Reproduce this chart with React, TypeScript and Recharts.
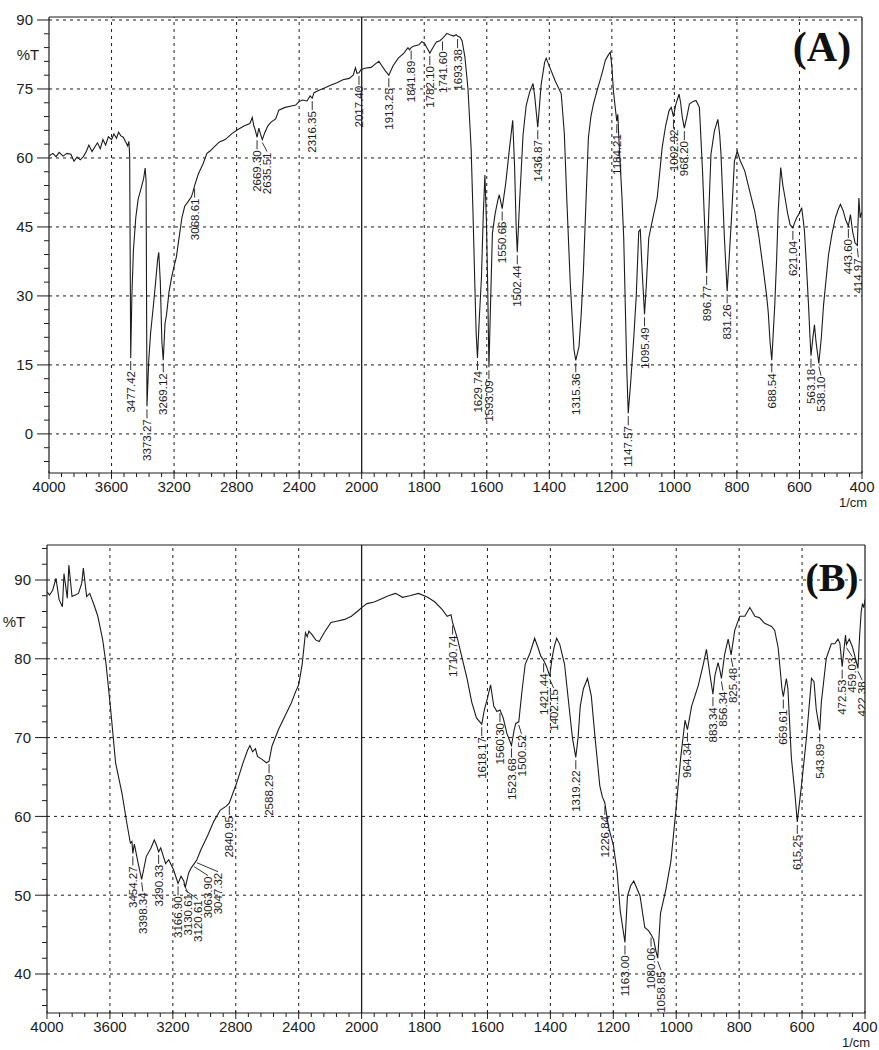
import React from 'react';
import { LineChart, Line, XAxis, YAxis, ReferenceLine } from 'recharts';

// axis labels; the x scale doubles its spread below 2000 1/cm
const xTickLabels = [4000, 3600, 3200, 2800, 2400, 2000, 1800, 1600, 1400, 1200, 1000, 800, 600, 400];
const yMajorA = [0, 15, 30, 45, 60, 75, 90];
const yMajorB = [40, 50, 60, 70, 80, 90];

// (A) spectrum, [wavenumber, %T]
const spectrumA: [number, number][] = [
  [3998, 60.5], [3975, 61], [3955, 60.3], [3935, 61.2], [3910, 60.4], [3885, 61], [3860, 60.8], [3840, 59.3],
  [3820, 60.2], [3800, 59.6], [3780, 60.3], [3760, 61.5], [3745, 62.8], [3725, 61.4], [3705, 62.5], [3690, 63.3],
  [3672, 62], [3655, 64], [3638, 62.8], [3620, 64.6], [3600, 64], [3585, 65.2], [3568, 64.3], [3555, 65.6],
  [3540, 64.8], [3525, 64.5], [3510, 63.5], [3497, 62.6], [3489, 63.6], [3484, 60.5],
  [3470, 30], [3460, 40], [3445, 47], [3430, 51], [3410, 53.5], [3395, 55.5], [3385, 57.8], [3379, 55],
  [3362, 16], [3350, 22], [3335, 27], [3318, 33], [3305, 38], [3298, 39.5], [3288, 33], [3278, 20],
  [3258, 24], [3248, 26], [3232, 31], [3216, 34], [3200, 36.5], [3185, 38.5], [3175, 41], [3164, 43.6],
  [3150, 47], [3132, 49.5], [3110, 50.5], [3090, 51.5], [3080, 52.5],
  [3045, 56.5], [3015, 58.7], [2990, 61], [2970, 61.5], [2940, 62.5], [2910, 63.5], [2873, 64], [2830, 65.3],
  [2792, 66.2], [2750, 67], [2715, 67.5], [2700, 68.8], [2690, 67], [2680, 66],
  [2658, 66.5], [2648, 65.3],
  [2620, 65.5], [2600, 67], [2580, 67.8], [2550, 68.5], [2530, 70.4], [2490, 71], [2450, 71.3], [2422, 71.5],
  [2400, 72.3], [2378, 72.6], [2350, 72.4], [2330, 73.5],
  [2305, 74.2], [2270, 74.8], [2230, 75.3], [2200, 75.8], [2162, 76.3], [2120, 77], [2080, 77.3], [2054, 78],
  [2040, 79.6], [2030, 78.4],
  [2005, 79.2], [1990, 79.5], [1970, 79.7], [1955, 80.5], [1945, 81], [1935, 80], [1925, 79],
  [1900, 80], [1883, 81.7], [1865, 82.8], [1852, 84], [1847, 83.5],
  [1835, 84.3], [1817, 84.6], [1808, 85.3], [1800, 85], [1792, 84],
  [1772, 84], [1761, 85.2], [1750, 85.5],
  [1735, 86.5], [1728, 87.1], [1718, 86.8], [1706, 86.5], [1698, 86.8],
  [1685, 86.2], [1679, 85.5], [1670, 82], [1660, 75], [1650, 62], [1644, 48], [1638, 32], [1634, 22],
  [1624, 25], [1617, 34], [1611, 48], [1606, 56.3], [1601, 46], [1597, 32],
  [1588, 28], [1582, 43.6], [1573, 48], [1564, 51], [1560, 52],
  [1539, 54.7], [1528, 61.7], [1517, 68.2], [1511, 58], [1506, 45],
  [1495, 50.5], [1484, 65], [1474, 71.4], [1463, 74.3], [1452, 76.2], [1447, 73.6],
  [1426, 76], [1415, 80.8], [1410, 81.7], [1399, 79.8], [1382, 76.9], [1362, 74], [1352, 65.4], [1344, 50.9],
  [1333, 32.8], [1321, 18.3],
  [1305, 19], [1298, 26], [1291, 35.3], [1283, 50], [1275, 64.4], [1267, 69], [1259, 71.7], [1248, 74.5],
  [1238, 76.8], [1229, 79], [1221, 81.2], [1212, 82.3], [1205, 83], [1200, 80], [1195, 74.6], [1190, 71.5],
  [1181, 69.5], [1176, 62], [1168, 52], [1162, 42.6], [1156, 25], [1152, 13.5],
  [1140, 11], [1130, 20.8], [1122, 30], [1114, 44], [1109, 44.4], [1103, 35.3],
  [1090, 32], [1082, 42.6], [1071, 46.2], [1055, 51.3], [1039, 62.3], [1028, 67], [1017, 70.3], [1010, 71],
  [996, 71.5], [985, 73.9], [980, 72], [975, 69],
  [960, 69], [952, 71.7], [940, 72.3], [931, 72.5], [920, 71], [910, 57.2], [903, 45],
  [890, 48], [883, 60.8], [872, 65.9], [861, 68.4], [855, 65], [851, 60.8], [840, 42.6],
  [825, 38], [818, 46.2], [808, 59.3], [799, 61.5], [790, 59.5], [775, 57.2], [760, 53], [743, 48.4],
  [730, 43], [716, 36], [705, 30], [700, 26.6], [694, 20],
  [679, 28], [673, 38], [668, 48.4], [660, 57.9], [653, 54], [646, 51.3], [638, 48], [630, 45.5],
  [615, 46], [609, 47], [600, 48], [593, 49.2], [588, 46.5], [584, 44], [578, 37], [571, 28], [567, 22],
  [557, 21], [552, 23.7], [547, 20],
  [530, 21], [523, 28], [515, 33.5], [507, 39], [496, 43.5], [485, 47], [475, 49], [469, 49.9], [460, 48.5], [452, 46.5],
  [437, 47.7], [430, 44], [422, 41.5],
  [410, 51.3], [406, 47], [402, 48], [400, 48],
];

// (A) labelled peaks, [wavenumber, %T]
const peaksA: [number, number][] = [
  [3477.42, 16.5], [3373.27, 6], [3269.12, 16], [3068.61, 54], [2669.3, 64.5], [2635.51, 64], [2316.35, 73],
  [2017.4, 78.5], [1913.25, 78], [1841.89, 84], [1782.1, 82.8], [1741.6, 86], [1693.38, 86.5], [1629.74, 16.5],
  [1593.09, 14.5], [1550.66, 49], [1502.44, 39.5], [1436.87, 66.7], [1315.36, 16], [1184.21, 68], [1147.57, 4.5],
  [1095.49, 26], [1002.92, 69], [968.2, 66.5], [896.77, 35], [831.26, 31], [688.54, 16], [621.04, 44.8],
  [563.18, 17], [538.1, 15.3], [443.6, 45.2], [414.97, 41],
];

// (B) spectrum, [wavenumber, %T]
const spectrumB: [number, number][] = [
  [4000, 88.5], [3984, 88.1], [3964, 88.7], [3943, 90.2], [3923, 87.5], [3902, 86.6], [3892, 90.8], [3871, 87.7],
  [3861, 91.9], [3841, 87.9], [3820, 88.1], [3800, 88.3], [3779, 89.6], [3769, 91.5], [3748, 87.9], [3728, 88.3],
  [3697, 86.6], [3677, 85.4], [3646, 82.4], [3625, 79.4], [3595, 73.5], [3564, 66.8], [3523, 62.9], [3492, 59.1],
  [3470, 56.6], [3460, 56.8],
  [3445, 56.5], [3420, 54],
  [3369, 54.9], [3339, 56], [3318, 57], [3303, 56.3],
  [3277, 56], [3246, 54], [3226, 54.5], [3195, 53.2],
  [3148, 52.4],
  [3100, 52.8], [3082, 53.5],
  [3021, 55.8], [2980, 57.5], [2939, 59.4], [2898, 60.8], [2860, 61.3],
  [2795, 64.2], [2754, 66.8], [2725, 68.4], [2710, 69], [2693, 68.2], [2675, 68.6], [2662, 67.6], [2631, 67.2], [2605, 66.8],
  [2570, 68.9], [2529, 71], [2488, 72.7], [2447, 74.4], [2420, 75.8], [2400, 76.7], [2378, 79.3], [2357, 83.3],
  [2346, 82.8], [2335, 83.5], [2313, 83], [2292, 82.4], [2270, 82.2], [2238, 83.3], [2195, 84.6], [2151, 84.8],
  [2108, 85], [2065, 85.4], [2022, 86.1], [2000, 86.5], [1983, 87], [1960, 87.2], [1938, 87.6], [1915, 88],
  [1892, 88.3], [1870, 87.8], [1847, 88], [1819, 88.3], [1790, 87.8], [1767, 87.2], [1745, 86.3], [1728, 85.4], [1716, 85.6],
  [1695, 82.5], [1680, 80], [1665, 77.5], [1650, 74.5], [1635, 72.5],
  [1610, 73.5], [1600, 75], [1590, 76.7], [1580, 74], [1570, 73.3],
  [1550, 72.5], [1538, 70.5],
  [1515, 71], [1510, 71.8],
  [1490, 76], [1480, 79.3], [1465, 80.7], [1450, 82.6], [1440, 81.5], [1430, 80.3],
  [1412, 79],
  [1395, 80], [1388, 81.5], [1380, 82.6], [1370, 81.8], [1355, 79.3], [1340, 73.7], [1330, 70],
  [1312, 70], [1305, 74], [1295, 76.2], [1282, 77.5], [1270, 75.3], [1258, 70], [1243, 63.9], [1235, 62.5],
  [1215, 58.6], [1200, 56.4], [1188, 53], [1178, 48],
  [1155, 49.9], [1145, 51.2], [1135, 51.8], [1115, 49.9], [1100, 45.9], [1088, 45.5],
  [1072, 44.4], [1065, 43],
  [1050, 47.7], [1033, 50.7], [1017, 54.3], [1001, 60.8], [986, 67.4], [972, 72.2],
  [951, 74], [930, 76.6], [914, 79.3], [904, 81.2], [893, 78],
  [877, 77.9], [867, 79.5], [861, 78.5],
  [846, 80.6], [835, 82.5],
  [814, 83.6], [798, 85.4], [782, 85.4], [766, 86.5], [750, 85.4], [735, 85.2], [719, 84.5], [697, 84.1],
  [687, 83.6], [676, 81.4], [664, 76.2],
  [650, 77.5], [645, 76.2], [634, 67.4], [623, 63],
  [602, 63.9], [586, 70], [570, 77.5], [562, 77.1], [555, 73.6],
  [539, 74.4], [523, 80.1], [507, 81.9], [496, 81.9], [486, 82.5], [480, 82],
  [466, 81.5], [462, 83],
  [450, 82.5], [440, 81.5], [430, 80],
  [417, 83], [412, 86], [408, 87], [404, 86.5], [400, 87.5],
];

// (B) labelled peaks, [wavenumber, %T]
const peaksB: [number, number][] = [
  [3454.27, 55.3], [3398.34, 52], [3290.33, 55.5], [3166.9, 51.5], [3130.61, 51.8], [3120.61, 51], [3063.9, 54],
  [3047.32, 54.5], [2840.95, 61.7], [2588.29, 67], [1710.74, 84.6], [1618.17, 71.7], [1560.3, 73.5], [1523.68, 69],
  [1500.52, 72], [1421.44, 79.8], [1402.15, 77.8], [1319.22, 67.5], [1226.84, 61.7], [1163.0, 44], [1080.06, 45],
  [1058.85, 42], [964.34, 71], [883.34, 75.5], [856.34, 77.5], [825.48, 80.5], [659.61, 75.2], [615.25, 59.3],
  [543.89, 70.9], [472.53, 79], [459.03, 81.8], [422.38, 78.8],
];

const ink = '#1c1c1c';
const narrow = "'Liberation Sans Narrow', 'Arial Narrow', 'Liberation Sans', sans-serif";
const serif = "'Liberation Serif', 'Times New Roman', serif";

// position along the axis: 0..5 for 4000-2000, 5..13 for 2000-400
const toPos = (w: number) => (w >= 2000 ? (4000 - w) / 400 : 5 + (2000 - w) / 200);
const xTicks = Array.from({ length: 66 }, (_, i) => i / 5);
const xMajors = xTickLabels.map((_, i) => i);

const curveRows = (spectrum: [number, number][], peaks: [number, number][]) =>
  [...spectrum, ...peaks].map(([w, t]) => ({ x: toPos(w), t })).sort((a, b) => a.x - b.x);

// spread the peak labels so neighbours do not overlap
const peakRows = (peaks: [number, number][], plotW: number) => {
  const ppp = plotW / 13;
  const rows = peaks
    .map(([w, t]) => ({ x: toPos(w), t, label: w.toFixed(2), shift: 0 }))
    .sort((a, b) => a.x - b.x);
  let last = -Infinity;
  return rows.map((r) => {
    const px = Math.max(r.x * ppp, last + 10);
    last = px;
    return { ...r, shift: px - r.x * ppp };
  });
};

const renderXTick = (props: any) => {
  const { x, y, payload } = props;
  const v = payload.value;
  const i = Math.round(v);
  const major = Math.abs(v - i) < 1e-6;
  return (
    <g>
      <line x1={x} y1={major ? y - 2 : y} x2={x} y2={y + (major ? 6 : 4)} stroke={ink} strokeWidth={1} />
      {major && (
        <text x={x} y={y + 19} textAnchor="middle" fontSize={15} fontFamily={narrow} fill={ink}>
          {xTickLabels[i]}
        </text>
      )}
      {major && i === xTickLabels.length - 1 && (
        <text x={x - 9} y={y + 34} textAnchor="middle" fontSize={13} fontFamily={narrow} fill={ink}>
          1/cm
        </text>
      )}
    </g>
  );
};

const makeYTick = (majors: number[]) => (props: any) => {
  const { x, y, payload } = props;
  const major = majors.includes(payload.value);
  return (
    <g>
      <line x1={x} y1={y} x2={x - (major ? 12 : 5)} y2={y} stroke={ink} strokeWidth={1} />
      {major && (
        <text x={x - 16} y={y} dy="0.36em" textAnchor="end" fontSize={15} fontFamily={narrow} fill={ink}>
          {payload.value}
        </text>
      )}
    </g>
  );
};

const renderPeak = (props: any) => {
  const { cx, cy, payload, index } = props;
  if (cx == null || cy == null) return <g key={`pk-${index}`} />;
  const lx = cx + payload.shift;
  const top = cy + 13;
  return (
    <g key={`pk-${index}`}>
      <line x1={cx} y1={cy + 3} x2={lx} y2={top - 1} stroke={ink} strokeWidth={0.9} />
      <text
        transform={`translate(${lx},${top}) rotate(-90)`}
        textAnchor="end"
        dy="0.35em"
        fontSize={11.5}
        fontFamily={narrow}
        fill={ink}
      >
        {payload.label}
      </text>
    </g>
  );
};

type PanelProps = {
  spectrum: [number, number][];
  peaks: [number, number][];
  yMajor: number[];
  yTicks: number[];
  yDomain: [number, number];
  height: number;
  margin: { top: number; right: number; bottom: number; left: number };
  yAxisWidth: number;
  xAxisHeight: number;
};

const Panel = ({ spectrum, peaks, yMajor, yTicks, yDomain, height, margin, yAxisWidth, xAxisHeight }: PanelProps) => {
  const plotW = 879 - margin.left - margin.right - yAxisWidth;
  return (
    <LineChart width={879} height={height} margin={margin}>
      <XAxis
        type="number"
        dataKey="x"
        domain={[0, 13]}
        ticks={xTicks}
        interval={0}
        tickSize={0}
        tickMargin={0}
        tickLine={false}
        tick={renderXTick}
        axisLine={{ stroke: ink, strokeWidth: 1.2 }}
        height={xAxisHeight}
        allowDataOverflow
      />
      <YAxis
        type="number"
        domain={yDomain}
        ticks={yTicks}
        interval={0}
        tickSize={0}
        tickMargin={0}
        tickLine={false}
        tick={makeYTick(yMajor)}
        axisLine={{ stroke: ink, strokeWidth: 1.2 }}
        width={yAxisWidth}
        allowDataOverflow
      />
      {xMajors.slice(1, -1).map((p) => (
        <ReferenceLine
          key={`vx-${p}`}
          x={p}
          stroke={ink}
          strokeWidth={p === 5 ? 1.3 : 1}
          strokeDasharray={p === 5 ? undefined : '3 4'}
        />
      ))}
      {yMajor.map((v) => (
        <ReferenceLine key={`hy-${v}`} y={v} stroke={ink} strokeWidth={1} strokeDasharray="3 4" />
      ))}
      <ReferenceLine x={13} stroke={ink} strokeWidth={1.2} />
      <ReferenceLine y={yDomain[1]} stroke={ink} strokeWidth={1.2} />
      <Line
        data={curveRows(spectrum, peaks)}
        dataKey="t"
        type="linear"
        stroke={ink}
        strokeWidth={1.1}
        dot={false}
        activeDot={false}
        isAnimationActive={false}
      />
      <Line
        data={peakRows(peaks, plotW)}
        dataKey="t"
        stroke="none"
        dot={renderPeak}
        activeDot={false}
        isAnimationActive={false}
      />
    </LineChart>
  );
};

export default function App() {
  const yTicksA = Array.from({ length: 33 }, (_, i) => -6 + 3 * i);
  const yTicksB = Array.from({ length: 30 }, (_, i) => 36 + 2 * i);
  return (
    <div style={{ position: 'absolute', left: 0, top: 0, width: 879, height: 1050, background: '#fff', overflow: 'hidden' }}>
      <div style={{ position: 'absolute', left: 0, top: 0 }}>
        <Panel
          spectrum={spectrumA}
          peaks={peaksA}
          yMajor={yMajorA}
          yTicks={yTicksA}
          yDomain={[-8.5, 90.65]}
          height={520}
          margin={{ top: 17, right: 17, bottom: 0, left: 0 }}
          yAxisWidth={49}
          xAxisHeight={47}
        />
      </div>
      <div style={{ position: 'absolute', left: 0, top: 520 }}>
        <Panel
          spectrum={spectrumB}
          peaks={peaksB}
          yMajor={yMajorB}
          yTicks={yTicksB}
          yDomain={[35.05, 94.44]}
          height={530}
          margin={{ top: 25, right: 14, bottom: 0, left: 0 }}
          yAxisWidth={47}
          xAxisHeight={37}
        />
      </div>
      <svg width={879} height={1050} style={{ position: 'absolute', left: 0, top: 0, pointerEvents: 'none' }}>
        <text x={28} y={60} textAnchor="middle" fontSize={15} fontFamily={narrow} fill={ink}>%T</text>
        <text x={14} y={627} textAnchor="middle" fontSize={15} fontFamily={narrow} fill={ink}>%T</text>
        <text x={822} y={61} textAnchor="middle" fontSize={42} fontWeight="bold" fontFamily={serif} fill="#111">(A)</text>
        <text x={832} y={591} textAnchor="middle" fontSize={40} fontWeight="bold" fontFamily={serif} fill="#111">(B)</text>
      </svg>
    </div>
  );
}
